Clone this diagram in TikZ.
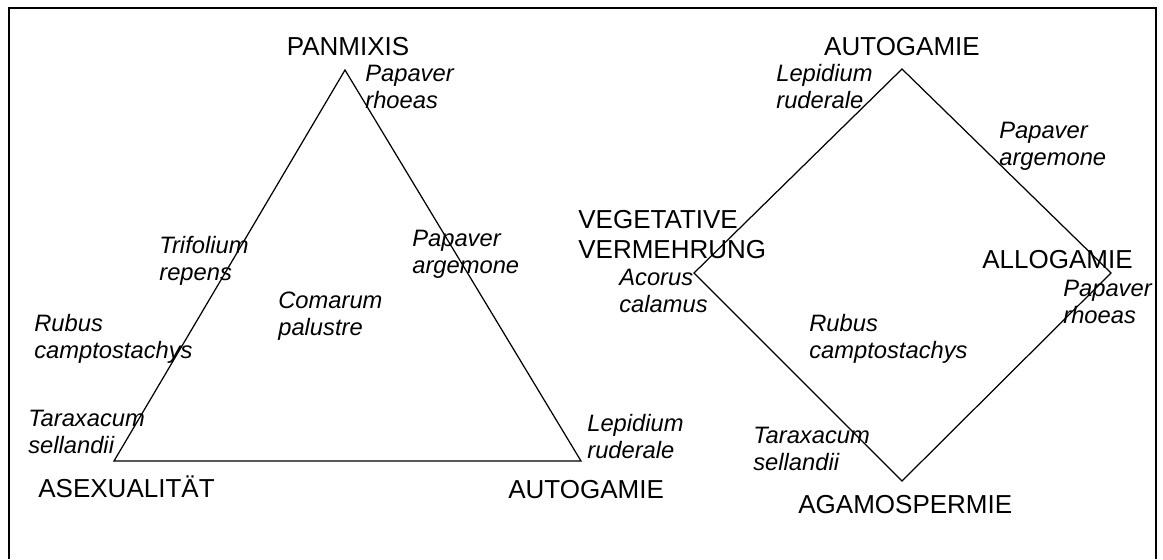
\documentclass[tikz,border=0pt]{standalone}
\usepackage{fontspec}
\setmainfont{Liberation Sans}
\tikzset{
  mode/.style={inner sep=0pt,font=\fontsize{14.8}{17}\selectfont},
  species/.style={inner sep=0pt,anchor=base west,align=left,font=\fontsize{13.5}{15}\selectfont\itshape},
}
\begin{document}
\begin{tikzpicture}[x=0.02cm,y=-0.02cm]
 \useasboundingbox (0,0) rectangle (1163,559);
 \draw[line width=1.1pt] (9,559)--(9,8)--(1156,8)--(1156,559);
 % triangle
 \coordinate (tp) at (345,70);
 \coordinate (ta) at (114,461);
 \coordinate (tg) at (581,461);
 \draw[line width=0.7pt] (tp)--(ta)--(tg)--cycle;
 \node[mode,anchor=base] (pan) at (348,55) {PANMIXIS};
 \node[mode,anchor=base west] (asex) at (38,497) {ASEXUALITÄT};
 \node[mode,anchor=base west] (autoA) at (508,498) {AUTOGAMIE};
 \node[species] (prA) at (365,108) {Papaver\\rhoeas};
 \node[species] (tr) at (159,280) {Trifolium\\repens};
 \node[species] (paA) at (412,273) {Papaver\\argemone};
 \node[species] (cp) at (278,335) {Comarum\\palustre};
 \node[species] (rcA) at (34,358) {Rubus\\camptostachys};
 \node[species] (tsA) at (28,453) {Taraxacum\\sellandii};
 \node[species] (lrA) at (587,458) {Lepidium\\ruderale};
 % diamond
 \coordinate (dt) at (902,69);
 \coordinate (dl) at (694,273);
 \coordinate (dr) at (1111,273);
 \coordinate (db) at (902,481);
 \draw[line width=0.7pt] (dt)--(dr)--(db)--(dl)--cycle;
 \node[mode,anchor=base] (autoB) at (902,55) {AUTOGAMIE};
 \node[mode,anchor=base west,align=left] (veg) at (578,258) {VEGETATIVE\\VERMEHRUNG};
 \node[mode,anchor=base west] (allo) at (982,268) {ALLOGAMIE};
 \node[mode,anchor=base west] (agamo) at (798,513) {AGAMOSPERMIE};
 \node[species] (lrB) at (776,108) {Lepidium\\ruderale};
 \node[species] (paB) at (999,165) {Papaver\\argemone};
 \node[species] (ac) at (619,312) {Acorus\\calamus};
 \node[species] (prB) at (1063,323) {Papaver\\rhoeas};
 \node[species] (rcB) at (809,358) {Rubus\\camptostachys};
 \node[species] (tsB) at (753,470) {Taraxacum\\sellandii};
\end{tikzpicture}
\end{document}
